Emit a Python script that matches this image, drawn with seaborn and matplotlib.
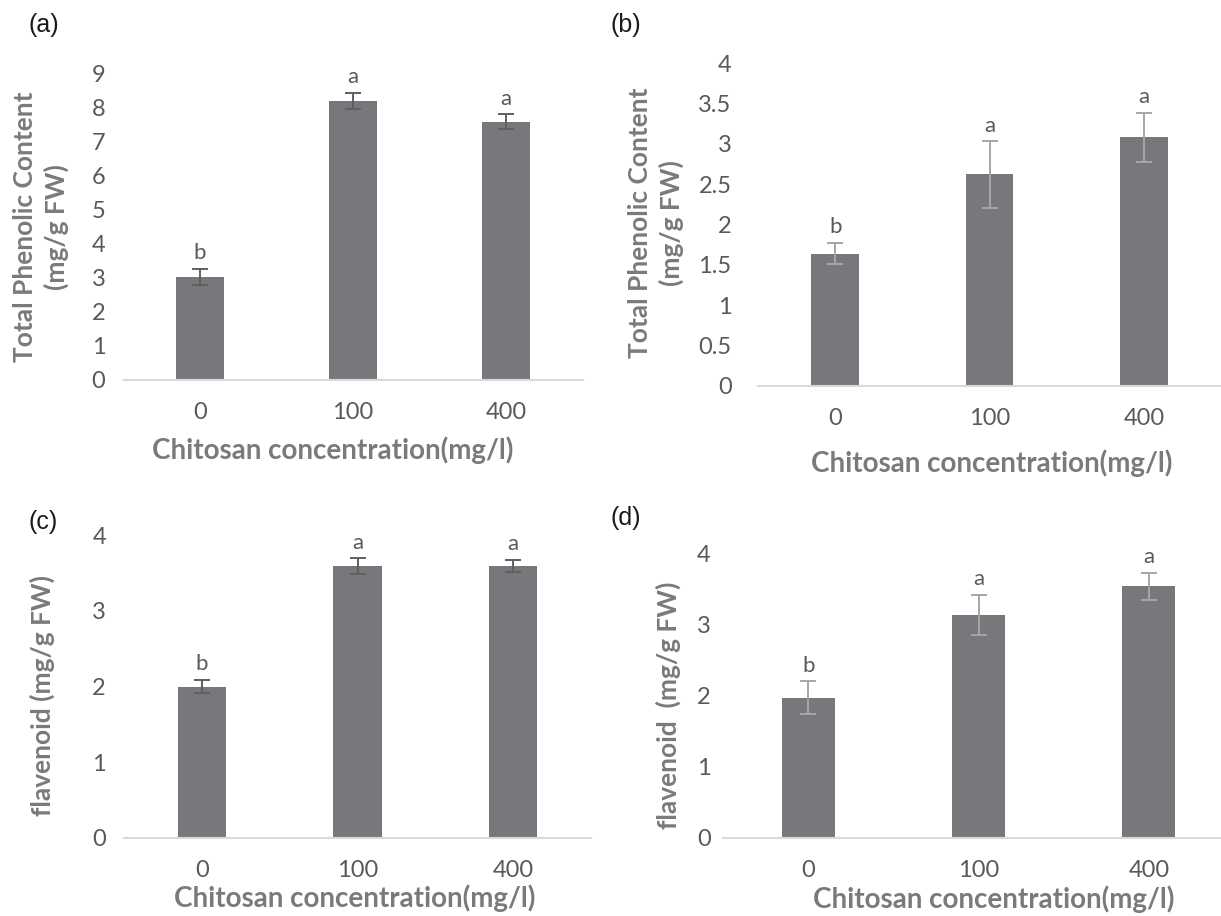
import numpy as np
import pandas as pd
import matplotlib
matplotlib.use("Agg")
import matplotlib.pyplot as plt
import seaborn as sns

# ---------------- data ----------------
categories = ["0", "100", "400"]

tpc_a = [3.03, 8.21, 7.60]
tpc_a_err = [0.23, 0.24, 0.21]
letters_a = ["b", "a", "a"]

tpc_b = [1.64, 2.62, 3.08]
tpc_b_err = [0.13, 0.41, 0.30]
letters_b = ["b", "a", "a"]

flav_c = [2.00, 3.59, 3.59]
flav_c_err = [0.09, 0.10, 0.08]
letters_c = ["b", "a", "a"]

flav_d = [1.97, 3.13, 3.53]
flav_d_err = [0.23, 0.28, 0.19]
letters_d = ["b", "a", "a"]

yticks_a = [0, 1, 2, 3, 4, 5, 6, 7, 8, 9]
yticks_b = [0, 0.5, 1, 1.5, 2, 2.5, 3, 3.5, 4]
yticks_cd = [0, 1, 2, 3, 4]

xlabel_text = "Chitosan concentration(mg/l)"
ylabel_tpc = "Total Phenolic Content\n(mg/g FW)"
ylabel_c = "flavenoid (mg/g FW)"
ylabel_d = "flavenoid  (mg/g FW)"

# ---------------- style ----------------
sns.set_theme(style="white")
plt.rcParams["font.family"] = ["Lato", "DejaVu Sans"]

BAR = "#77787b"
TXT = "#595959"
LBL = "#7a7a7a"
AXL = "#d9d9d9"

W, H = 1221, 916
fig = plt.figure(figsize=(W / 100, H / 100), dpi=100)


def pix_axes(left, right, y0, ytop):
    return fig.add_axes([left / W, (H - y0) / H, (right - left) / W, (y0 - ytop) / H])


def panel(ax, vals, errs, letters, yticks, ylabel, ecolor, ylab_xy, xlab_xy,
          ytick_pad, xtick_pad, tag, tag_xy, ylab_size=19):
    df = pd.DataFrame({"conc": categories, "val": vals})
    sns.barplot(data=df, x="conc", y="val", color=BAR, saturation=1,
                width=0.31, errorbar=None, ax=ax, edgecolor="none")
    xs = np.arange(len(categories))
    ax.errorbar(xs, vals, yerr=errs, fmt="none", ecolor=ecolor,
                elinewidth=1.4, capsize=6, capthick=1.4, zorder=5)
    for x, v, e, t in zip(xs, vals, errs, letters):
        ax.annotate(t, (x, v + e), xytext=(0, 7), textcoords="offset points",
                    ha="center", va="baseline", fontsize=16, color=TXT)
    ax.set_xlim(-0.5, 2.5)
    ax.set_ylim(yticks[0], yticks[-1])
    ax.set_yticks(yticks)
    ax.set_yticklabels([f"{t:g}" for t in yticks])
    ax.tick_params(axis="both", length=0, labelsize=17, labelcolor=TXT)
    ax.tick_params(axis="y", pad=ytick_pad)
    ax.tick_params(axis="x", pad=xtick_pad)
    for s in ["top", "right", "left"]:
        ax.spines[s].set_visible(False)
    ax.spines["bottom"].set_color(AXL)
    ax.spines["bottom"].set_linewidth(1.5)
    ax.grid(False)
    ax.set_xlabel(xlabel_text, fontsize=20, fontweight="bold", color=LBL)
    ax.xaxis.label.set_va("center")
    ax.xaxis.set_label_coords(*xlab_xy)
    ax.set_ylabel(ylabel, fontsize=ylab_size, fontweight="bold", color=LBL,
                  linespacing=1.3)
    ax.yaxis.label.set_va("center")
    ax.yaxis.label.set_ha("center")
    ax.yaxis.set_label_coords(*ylab_xy)
    fig.text(tag_xy[0] / W, 1 - tag_xy[1] / H, tag, fontsize=18, color="#1a1a1a",
             family=["Liberation Sans", "DejaVu Sans"], ha="left", va="center")


def frac(ax_left, ax_right, y0, ytop, px, py):
    return ((px - ax_left) / (ax_right - ax_left), (y0 - py) / (y0 - ytop))


# (a)
L, R, Y0, YT = 123.5, 582.5, 380, 74
axa = pix_axes(L, R, Y0, YT)
panel(axa, tpc_a, tpc_a_err, letters_a, yticks_a, ylabel_tpc, "#5f5f5f",
      frac(L, R, Y0, YT, 41, 227), frac(L, R, Y0, YT, 333, 450),
      13, 16, "(a)", (28, 25))

# (b)
L, R, Y0, YT = 758, 1221, 386, 63
axb = pix_axes(L, R, Y0, YT)
panel(axb, tpc_b, tpc_b_err, letters_b, yticks_b, ylabel_tpc, "#a6a6a6",
      frac(L, R, Y0, YT, 656, 223), frac(L, R, Y0, YT, 992, 463),
      19, 16, "(b)", (610, 25))

# (c)
L, R, Y0, YT = 124, 591, 838, 535
axc = pix_axes(L, R, Y0, YT)
panel(axc, flav_c, flav_c_err, letters_c, yticks_cd, ylabel_c, "#5f5f5f",
      frac(L, R, Y0, YT, 42, 695), frac(L, R, Y0, YT, 355, 898),
      13, 16, "(c)", (28, 522))

# (d)
L, R, Y0, YT = 723, 1234, 838, 553
axd = pix_axes(L, R, Y0, YT)
panel(axd, flav_d, flav_d_err, letters_d, yticks_cd, ylabel_d, "#a6a6a6",
      frac(L, R, Y0, YT, 668, 705), frac(L, R, Y0, YT, 994, 899),
      9, 16, "(d)", (611, 518))

fig.savefig("out.png", dpi=100, facecolor="white")
